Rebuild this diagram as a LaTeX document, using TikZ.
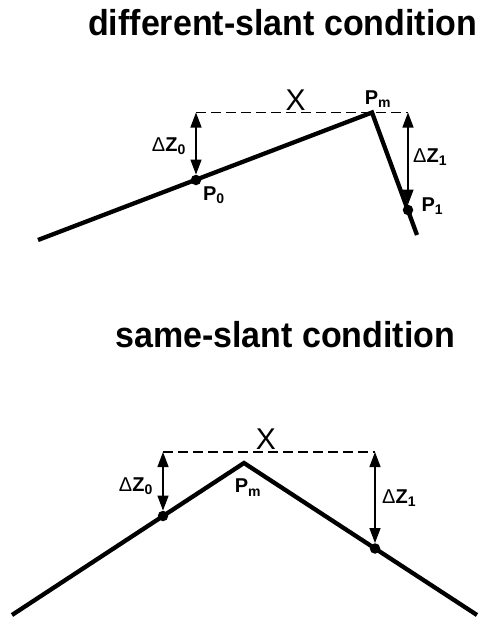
\documentclass[tikz,border=0pt]{standalone}
\usepackage{fontspec}
\setmainfont{Liberation Sans}
\usetikzlibrary{positioning,arrows.meta,calc}
\newcommand{\dzlab}[1]{{\fontseries{m}\selectfont\char"0394}Z\textsubscript{#1}}
\newcommand{\ptlab}[1]{P\textsubscript{#1}}
\tikzset{
  % --- headings and labels ---------------------------------------------------
  heading/.style={font=\fontsize{34}{40}\selectfont\bfseries,anchor=base west,
                  inner sep=0pt,yscale=1.06},
  lbl/.style={font=\fontsize{20}{22}\selectfont\bfseries,inner sep=0pt},
  xlbl/.style={font=\fontsize{30}{32}\selectfont,inner sep=0pt},
  % --- surface, guide and offsets --------------------------------------------
  slant/.style={line width=4.3pt,line join=miter},
  guide/.style={dash pattern=on 10pt off 5pt,line width=1.3pt},
  dzar/.style={{Triangle[length=15pt,width=11pt]}-{Triangle[length=15pt,width=11pt]},
               line width=1.3pt},
  dot/.style={circle,fill,inner sep=0pt,minimum size=10.5pt},
}
\begin{document}
\begin{tikzpicture}[x=1pt,y=-1pt]
  \useasboundingbox (0,0) rectangle (484,619);

  % different slants
  \node[heading] (ttop) at (88,35) {different-slant condition};

  \coordinate (a0) at (38,240);
  \coordinate (pm) at (372,112.5);
  \coordinate (a1) at (417,235);
  \draw[slant] (a0) -- (pm) -- (a1);
  \node[dot] (p0) at (196,180) {};
  \node[dot] (p1) at (408,210) {};

  \coordinate (t0) at (p0 |- pm);
  \coordinate (t1) at (p1 |- pm);
  \draw[guide] (t0) -- (t1);
  \draw[dzar] (t0) -- (p0);
  \draw[dzar] (t1) -- (p1);

  \coordinate (m0) at ($(t0)!0.5!(p0)$);
  \coordinate (m1) at ($(t1)!0.5!(p1)$);
  \coordinate (mx) at ($(t0)!0.47!(t1)$);
  \node[xlbl,above=2pt of mx] (xtop) {X};
  \node[lbl,left=10pt of m0] (dz0) {\dzlab{0}};
  \node[lbl,right=5pt of m1,yshift=4pt] (dz1) {\dzlab{1}};
  \node[lbl,below right=3pt and 3pt of p0] (lp0) {\ptlab{0}};
  \node[lbl,right=8pt of p1,yshift=4pt] (lp1) {\ptlab{1}};
  \node[lbl,above=5pt of pm,xshift=6pt] (lpm) {\ptlab{m}};

  % same slants
  \node[heading] (tbot) at (115,347) {same-slant condition};

  \coordinate (b0) at (12,615);
  \coordinate (qm) at (244,463);
  \coordinate (b1) at (477,615);
  \draw[slant] (b0) -- (qm) -- (b1);
  \node[dot] (q0) at (163,516) {};
  \node[dot] (q1) at (375,548.5) {};

  \coordinate (lev) at (244,452);
  \coordinate (s0) at (q0 |- lev);
  \coordinate (s1) at (q1 |- lev);
  \draw[guide] (s0) -- (s1);
  \draw[dzar] (s0) -- (q0);
  \draw[dzar] (s1) -- (q1);

  \coordinate (n0) at ($(s0)!0.5!(q0)$);
  \coordinate (n1) at ($(s1)!0.5!(q1)$);
  \coordinate (nx) at ($(s0)!0.485!(s1)$);
  \node[xlbl,above=2pt of nx] (xbot) {X};
  \node[lbl,left=10pt of n0,yshift=-2pt] (dzb0) {\dzlab{0}};
  \node[lbl,right=7pt of n1,yshift=2pt] (dzb1) {\dzlab{1}};
  \node[lbl,below=16pt of qm,xshift=4pt] (lqm) {\ptlab{m}};
\end{tikzpicture}
\end{document}
